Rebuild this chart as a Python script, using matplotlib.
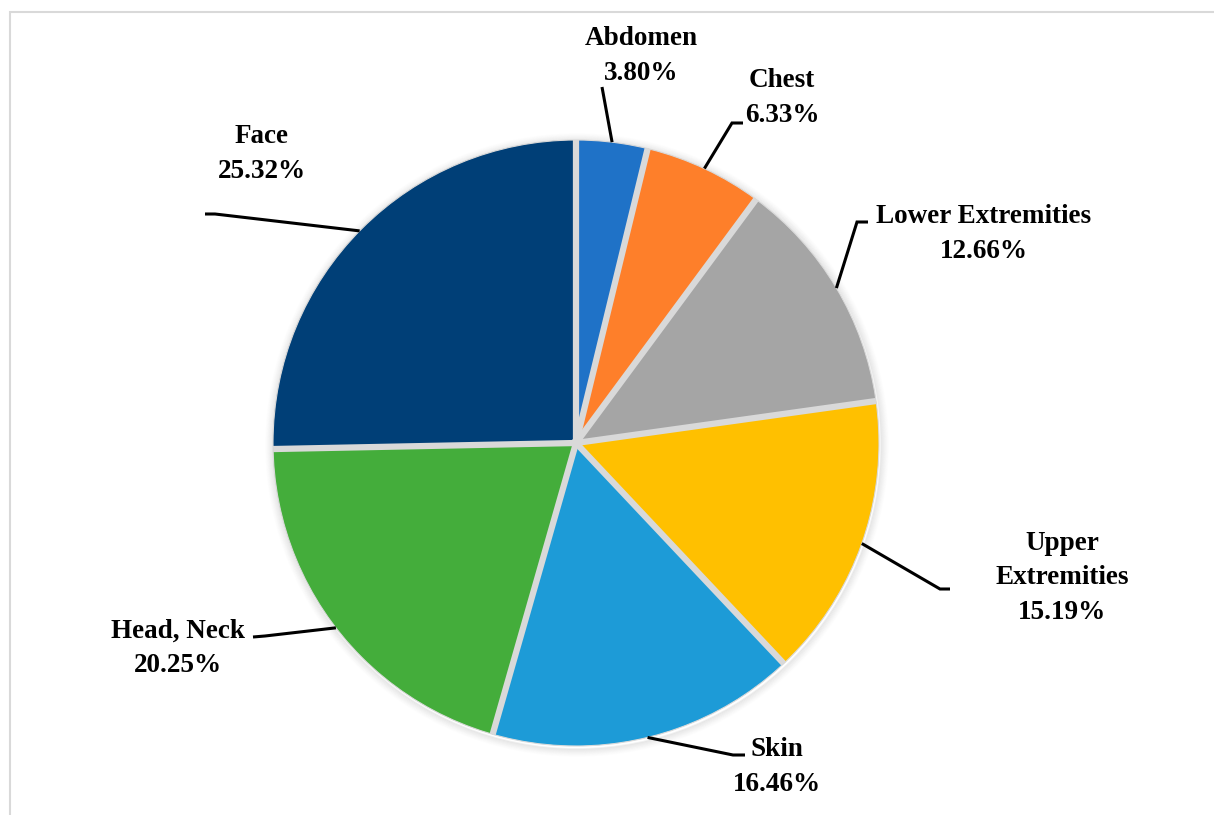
import numpy as np
import matplotlib
matplotlib.use("Agg")
import matplotlib.pyplot as plt
from matplotlib.patches import Rectangle, Circle

# ---- data ----
categories = ["Abdomen", "Chest", "Lower Extremities", "Upper\nExtremities",
              "Skin", "Head, Neck", "Face"]
values = [3.80, 6.33, 12.66, 15.19, 16.46, 20.25, 25.32]
colors = ["#1F72C7", "#FE7F2A", "#A5A5A5", "#FFC000", "#1D9BD7", "#44AD3B", "#003F77"]

W, H = 1214, 815
fig = plt.figure(figsize=(W / 100, H / 100), dpi=100)
ax = fig.add_axes([0, 0, 1, 1])

cx, cy, R = 576, H - 443, 303

# soft shadow around the pie
for k, a in zip(range(1, 9), np.linspace(0.10, 0.01, 8)):
    ax.add_patch(Circle((cx + 1, cy - 2), R + k, facecolor="none",
                        edgecolor="black", alpha=a * 0.6, linewidth=1.2, zorder=0))

wedges, _ = ax.pie(values, colors=colors, startangle=90, counterclock=False,
                   center=(cx, cy), radius=R,
                   wedgeprops=dict(edgecolor="none", linewidth=0))
for w in wedges:
    w.set_zorder(1)

# thick light-grey separators between slices
for w in wedges:
    a = np.deg2rad(w.theta1)
    ax.plot([cx, cx + R * np.cos(a)], [cy, cy + R * np.sin(a)],
            color="#D9D9D9", lw=4.5, solid_capstyle="butt", zorder=2)
ax.add_patch(Circle((cx, cy), 5, facecolor="#D9D9D9", edgecolor="none", zorder=3))
ax.add_patch(Circle((cx, cy), R, facecolor="none", edgecolor="#D9D9D9",
                    linewidth=0.8, zorder=3))

ax.set_xlim(0, W)
ax.set_ylim(0, H)
ax.set_aspect("equal")
ax.axis("off")

# label layout (pixel coords, y from top): text center, elbow points
label_pos = [(641, 56), (782, 98), (984, 234), (1062, 578), (777, 767), (178, 648), (262, 154)]
elbows = [
    [(602, 87)],
    [(732, 123), (743, 123)],
    [(857, 222), (868, 222)],
    [(940, 589), (950, 589)],
    [(733, 755), (745, 755)],
    [(265, 636), (253, 637)],
    [(215, 214), (205, 214)],
]

fs = 19.5
for i, (lab, val) in enumerate(zip(categories, values)):
    w = wedges[i]
    ang = np.deg2rad((w.theta1 + w.theta2) / 2)
    ax0, ay0 = cx + R * np.cos(ang), cy + R * np.sin(ang)
    xs = [ax0] + [p[0] for p in elbows[i]]
    ys = [ay0] + [H - p[1] for p in elbows[i]]
    ax.plot(xs, ys, color="black", lw=2.2, solid_capstyle="butt",
            solid_joinstyle="miter", zorder=5)
    tx, ty = label_pos[i]
    ax.text(tx, H - ty, f"{lab}\n{val:.2f}%", ha="center", va="center",
            fontsize=fs, fontweight="bold", family="Liberation Serif",
            linespacing=1.5, color="black")

# outer frame
fig.add_artist(Rectangle((10 / W, -0.1), 1.2, (H - 12) / H + 0.1, transform=fig.transFigure,
                         fill=False, edgecolor="#D9D9D9", linewidth=1.5))

fig.savefig("out.png", dpi=100)
